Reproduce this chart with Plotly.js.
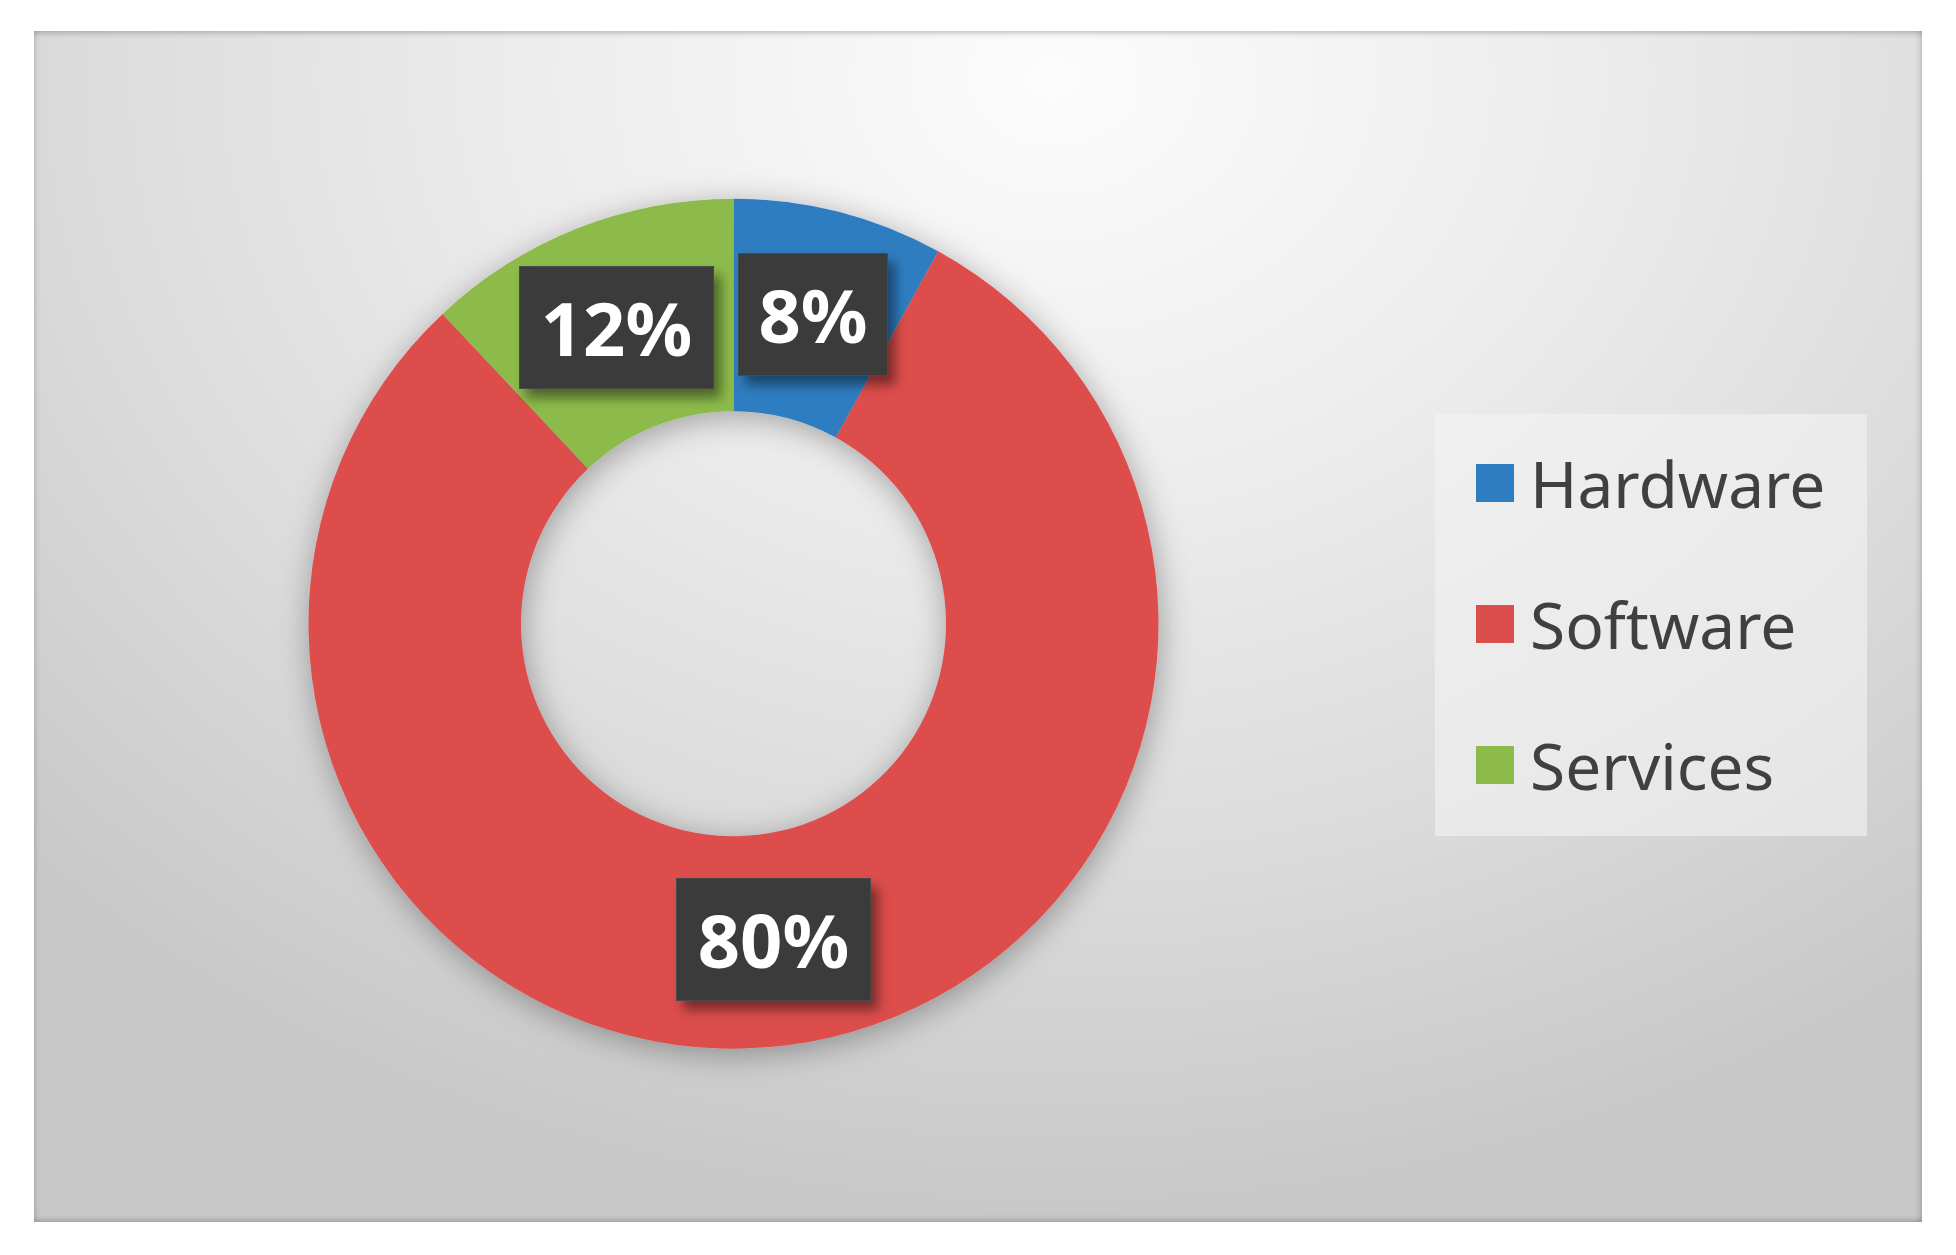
<!DOCTYPE html>
<html>
<head>
<meta charset="utf-8">
<script src="https://cdn.plot.ly/plotly-3.0.1.min.js"></script>
<style>
  html, body { margin:0; padding:0; background:#ffffff; }
  #wrap { position:relative; width:1956px; height:1255px; overflow:hidden; background:#fff; }
  #frame {
    position:absolute; left:34px; top:31px; width:1888px; height:1191px;
    background: radial-gradient(ellipse 75% 95% at 54% 4%, #fcfcfc 0%, #ececec 38%, #dcdcdc 68%, #c8c8c8 100%);
    box-shadow: inset 0 6px 5px -3px rgba(0,0,0,0.18), inset 5px 0 5px -3px rgba(0,0,0,0.12), inset 0 -6px 5px -3px rgba(0,0,0,0.16), inset -6px 0 5px -3px rgba(0,0,0,0.12);
  }
  #chart { position:absolute; left:0; top:0; width:1956px; height:1255px; }
</style>
</head>
<body>
<div id="wrap">
  <div id="frame"></div>
  <div id="chart"></div>
</div>
<script>
// ---- data ----
const categories = ['Hardware', 'Software', 'Services'];
const shares = [8, 80, 12];
const sliceColors = ['#2E7DC1', '#DC4E4C', '#8CBB4B'];

// ---- geometry ----
const W = 1956, H = 1255;
const cx = 733.5, cy = 623.7, R = 425;
const domX = [(cx - R) / W, (cx + R) / W];
const domY = [(H - cy - R) / H, (H - cy + R) / H];
const holeFrac = 0.5;

const trace = {
  type: 'pie',
  labels: categories,
  values: shares,
  hole: holeFrac,
  sort: false,
  direction: 'clockwise',
  rotation: 0,
  textinfo: 'none',
  hoverinfo: 'label+percent',
  showlegend: false,
  marker: { colors: sliceColors, line: { width: 0 } },
  domain: { x: domX, y: domY }
};

// data labels placed at slice mid-angle, mid-ring radius (derived from values)
const total = shares.reduce((a, b) => a + b, 0);
const pcx = (domX[0] + domX[1]) / 2, pcy = (domY[0] + domY[1]) / 2;
const Rpx = Math.min((domX[1] - domX[0]) * W, (domY[1] - domY[0]) * H) / 2;
const rMid = Rpx * (1 + holeFrac) / 2;
const annotations = [];
let cum = 0;
shares.forEach((v, i) => {
  const mid = (cum + v / 2) / total * 2 * Math.PI;
  cum += v;
  const txt = Math.round(v / total * 100) + '%';
  annotations.push({
    xref: 'paper', yref: 'paper',
    x: pcx + rMid * Math.sin(mid) / W,
    y: pcy + rMid * Math.cos(mid) / H,
    xanchor: 'center', yanchor: 'middle',
    text: '<b>' + txt + '</b>',
    showarrow: false,
    font: { family: 'Noto Sans', size: 74, color: '#ffffff' },
    bgcolor: '#3b3b3b',
    bordercolor: '#4a4a4a', borderwidth: 1,
    width: txt.length > 2 ? 193 : 148,
    height: 121,
    borderpad: 0
  });
});

// legend (built from categories/colours)
const legTop = 483, legStep = 141;
const shapes = [{
  type: 'rect', xref: 'paper', yref: 'paper', layer: 'below',
  x0: 1435 / W, x1: 1867 / W, y0: 1 - 836 / H, y1: 1 - 414 / H,
  fillcolor: 'rgba(244,244,244,0.6)', line: { width: 0 }
}];
categories.forEach((c, i) => {
  const yc = legTop + i * legStep;
  shapes.push({
    type: 'rect', xref: 'paper', yref: 'paper', layer: 'above',
    x0: 1476 / W, x1: 1514 / W, y0: 1 - (yc + 19) / H, y1: 1 - (yc - 19) / H,
    fillcolor: sliceColors[i], line: { width: 0 }
  });
  annotations.push({
    xref: 'paper', yref: 'paper',
    x: 1528 / W, y: 1 - yc / H,
    xanchor: 'left', yanchor: 'middle',
    text: c, showarrow: false,
    font: { family: 'Noto Sans', size: 64, color: '#404040' }
  });
});

const layout = {
  width: W, height: H,
  margin: { l: 0, r: 0, t: 0, b: 0 },
  paper_bgcolor: 'rgba(0,0,0,0)',
  plot_bgcolor: 'rgba(0,0,0,0)',
  showlegend: false,
  annotations: annotations,
  shapes: shapes
};

Plotly.newPlot('chart', [trace], layout, { displayModeBar: false, staticPlot: true }).then(() => {
  const ns = 'http://www.w3.org/2000/svg';
  const svg = document.querySelector('#chart .main-svg');
  let defs = svg.querySelector('defs');
  if (!defs) { defs = document.createElementNS(ns, 'defs'); svg.insertBefore(defs, svg.firstChild); }
  function mkFilter(id, dx, dy, sd, op) {
    const f = document.createElementNS(ns, 'filter');
    f.setAttribute('id', id);
    f.setAttribute('x', '-30%'); f.setAttribute('y', '-30%');
    f.setAttribute('width', '160%'); f.setAttribute('height', '160%');
    const d = document.createElementNS(ns, 'feDropShadow');
    d.setAttribute('dx', dx); d.setAttribute('dy', dy);
    d.setAttribute('stdDeviation', sd);
    d.setAttribute('flood-color', '#000'); d.setAttribute('flood-opacity', op);
    f.appendChild(d);
    defs.appendChild(f);
  }
  mkFilter('pieShadow', 2, 6, 16, 0.32);
  mkFilter('boxShadow', 7, 9, 6, 0.45);
  document.querySelectorAll('#chart g.pielayer').forEach(g => g.setAttribute('filter', 'url(#pieShadow)'));
  document.querySelectorAll('#chart g.annotation').forEach((g, i) => {
    if (i < shares.length) g.setAttribute('filter', 'url(#boxShadow)');
  });
});
</script>
</body>
</html>
